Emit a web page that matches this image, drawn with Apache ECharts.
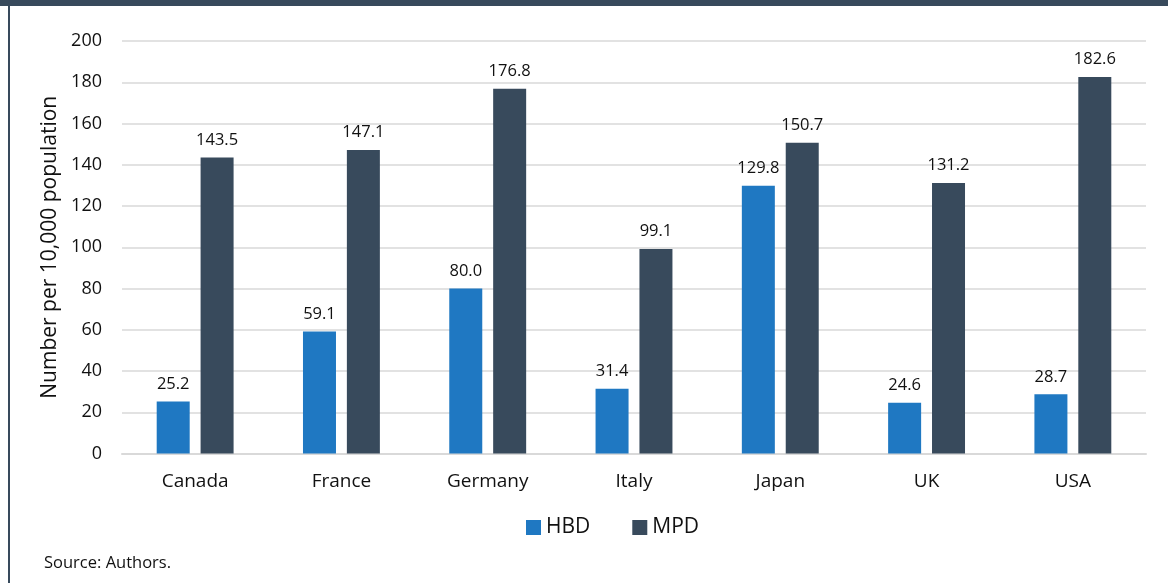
<!DOCTYPE html>
<html>
<head>
<meta charset="utf-8">
<script src="https://cdn.jsdelivr.net/npm/echarts@6/dist/echarts.min.js"></script>
<style>
html,body{margin:0;padding:0;background:#fff;}
#chart{width:1168px;height:583px;}
</style>
</head>
<body>
<div id="chart"></div>
<script>
const categories = ['Canada', 'France', 'Germany', 'Italy', 'Japan', 'UK', 'USA'];
const hbd = [25.2, 59.1, 80.0, 31.4, 129.8, 24.6, 28.7];
const mpd = [143.5, 147.1, 176.8, 99.1, 150.7, 131.2, 182.6];
const seriesNames = ['HBD', 'MPD'];
const yTitle = 'Number per 10,000 population';
const sourceText = 'Source: Authors.';

const FONT = '"Open Sans", "Noto Sans", sans-serif';
const chart = echarts.init(document.getElementById('chart'));
const labelStyle = {
  show: true, position: 'top', distance: 9,
  color: '#111', fontSize: 16.5, fontFamily: FONT,
  formatter: p => p.value.toFixed(1)
};
chart.setOption({
  animation: false,
  grid: { left: 122, right: 22, top: 41, bottom: 129.5 },
  legend: {
    data: seriesNames, bottom: 40, left: 521,
    icon: 'rect', itemWidth: 15, itemHeight: 15, itemGap: 42,
    textStyle: { color: '#111', fontSize: 21, fontFamily: FONT }
  },
  xAxis: {
    type: 'category', data: categories,
    axisLine: { lineStyle: { color: '#d9d9d9', width: 2 } },
    axisTick: { show: false },
    axisLabel: { color: '#111', fontSize: 19, fontFamily: FONT, margin: 19 }
  },
  yAxis: {
    type: 'value', min: 0, max: 200, interval: 20,
    name: yTitle, nameLocation: 'middle', nameGap: 60,
    nameTextStyle: { color: '#111', fontSize: 21, fontFamily: FONT },
    axisLine: { show: false }, axisTick: { show: false },
    axisLabel: { color: '#111', fontSize: 18, fontFamily: FONT, margin: 20 },
    splitLine: { lineStyle: { color: '#d9d9d9', width: 1.5 } }
  },
  series: [
    { name: seriesNames[0], type: 'bar', data: hbd, barWidth: 33, barGap: '33%',
      itemStyle: { color: '#1f78c2' }, label: labelStyle },
    { name: seriesNames[1], type: 'bar', data: mpd, barWidth: 33,
      itemStyle: { color: '#384a5c' }, label: labelStyle }
  ],
  graphic: [
    { type: 'rect', shape: { x: 0, y: 0, width: 1168, height: 6 }, style: { fill: '#384a5c' } },
    { type: 'rect', shape: { x: 8, y: 0, width: 2, height: 583 }, style: { fill: '#384a5c' } },
    { type: 'text', left: 44, top: 555, style: { text: sourceText, fill: '#111', fontSize: 16.5, fontFamily: FONT } }
  ]
});
</script>
</body>
</html>
